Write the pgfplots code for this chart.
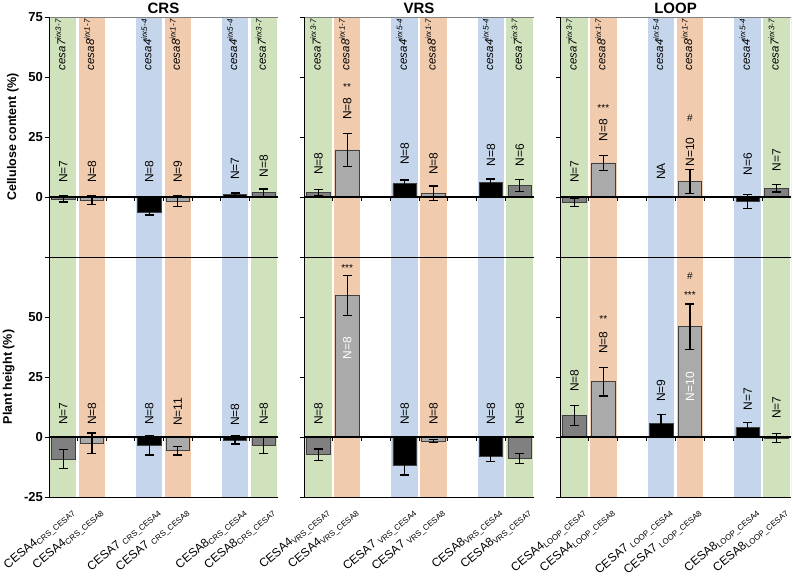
\documentclass[border=0pt]{standalone}
\usepackage{fontspec}
\setmainfont{Liberation Sans}
\usepackage{pgfplots}
\pgfplotsset{compat=1.18}
\definecolor{cgreen}{HTML}{CFE2BC}
\definecolor{corange}{HTML}{F1CBAE}
\definecolor{cblue}{HTML}{C5D6EC}
\definecolor{dgrey}{HTML}{808080}
\definecolor{lgrey}{HTML}{AAAAAA}
\definecolor{edge}{HTML}{404040}
\newcommand{\nf}{\fontsize{12}{13}\selectfont}
\newcommand{\N}[3]{\node[rotate=90,anchor=west,font=\nf,inner sep=0pt] at (axis cs:#1,#2) {#3};}
\newcommand{\W}[3]{\node[rotate=90,anchor=center,font=\nf,inner sep=0pt,text=white] at (axis cs:#1,#2) {#3};}
\newcommand{\St}[3]{\node[font=\fontsize{10}{11}\selectfont,inner sep=0pt] at (axis cs:#1,#2) {#3};}
\newcommand{\G}[3]{\node[rotate=90,anchor=east,inner sep=0pt,font=\fontsize{11.5}{12}\itshape\selectfont] at (axis cs:#1,74.3) {#2\textsuperscript{#3}};}
\newcommand{\bands}{%
\addplot[draw=none,fill=cgreen] coordinates {(-0.46,-25)(0.46,-25)(0.46,75)(-0.46,75)} --cycle;
\addplot[draw=none,fill=corange] coordinates {(0.54,-25)(1.46,-25)(1.46,75)(0.54,75)} --cycle;
\addplot[draw=none,fill=cblue] coordinates {(2.54,-25)(3.46,-25)(3.46,75)(2.54,75)} --cycle;
\addplot[draw=none,fill=corange] coordinates {(3.54,-25)(4.46,-25)(4.46,75)(3.54,75)} --cycle;
\addplot[draw=none,fill=cblue] coordinates {(5.54,-25)(6.46,-25)(6.46,75)(5.54,75)} --cycle;
\addplot[draw=none,fill=cgreen] coordinates {(6.54,-25)(7.46,-25)(7.46,75)(6.54,75)} --cycle;
}
\newcommand{\zeroline}{%
\draw[black,line width=1.1pt] (axis cs:-0.5,0) -- (axis cs:7.5,0);
\pgfplotsinvokeforeach{0.5,1.5,2.5,3.5,4.5,5.5,6.5}{\draw[black,line width=0.8pt] (axis cs:##1,0) -- ([yshift=-4pt]axis cs:##1,0);}
}
\newcommand{\glabels}{%
\G{-0.1}{cesa7}{irx3-7}\G{0.9}{cesa8}{irx1-7}\G{2.9}{cesa4}{irx5-4}\G{3.9}{cesa8}{irx1-7}\G{5.9}{cesa4}{irx5-4}\G{6.9}{cesa7}{irx3-7}}
\pgfplotsset{
 every axis title shift=0pt,
 panel/.style={scale only axis, height=240pt, xmin=-0.5, xmax=7.5, ymin=-25, ymax=75,
  axis x line*=bottom, axis y line*=left, axis line style={-, line width=0.9pt, black}, axis on top,
  ytick={-25,0,25,50,75}, tick align=outside, ytick pos=left, major tick length=4pt,
  major tick style={line width=0.8pt, black}, xtick=\empty,
  yticklabel style={font=\fontsize{13}{14}\bfseries\selectfont, inner sep=2pt},
  ylabel style={font=\fontsize{12.5}{14}\bfseries\selectfont}, ylabel shift=4pt,
  title style={font=\fontsize{15}{16}\bfseries\selectfont, at={(0.5,1)}, anchor=base, inner sep=0pt, yshift=3.5pt},
  anchor=south west},
 bars/.style={ybar, bar width=0.82, bar shift=0pt, draw=edge, line width=0.6pt,
  error bars/.cd, y dir=both, y explicit,
  error bar style={line width=1.2pt, black, solid},
  error mark options={rotate=90, line width=1.2pt, black, mark size=4.5pt}},
 xl/.style={xtick={0,1,3,4,6,7}, xtick style={draw=none},
  x tick label style={rotate=40, anchor=north east, font=\fontsize{12}{13}\selectfont, inner sep=0pt, xshift=1.5pt, yshift=-8pt}},
}
\begin{document}
\begin{tikzpicture}[x=1pt,y=1pt]
\useasboundingbox (0,0) rectangle (793,577);
% ================= bottom row: plant height =================
\begin{axis}[panel, xl, at={(49pt,80pt)}, width=229pt, yticklabels={-25,0,25,50,}, ylabel={Plant height (\%)},
 xticklabels={{CESA4\textsubscript{CRS\_CESA7}},{CESA4\textsubscript{CRS\_CESA8}},{CESA7 \textsubscript{CRS\_CESA4}},{CESA7 \textsubscript{CRS\_CESA8}},{CESA8\textsubscript{CRS\_CESA4}},{CESA8\textsubscript{CRS\_CESA7}}}]
\bands
\addplot[fill=dgrey,bars] table[x=x,y=y,y error=e,row sep=\\]{x y e\\ 0 -9.2 4.0\\ 7 -3.5 3.5\\};
\addplot[fill=lgrey,bars] table[x=x,y=y,y error=e,row sep=\\]{x y e\\ 1 -2.6 4.3\\ 4 -5.7 1.8\\};
\addplot[fill=black,bars] table[x=x,y=y,y error=e,row sep=\\]{x y e\\ 3 -3.5 4.0\\ 6 -1.2 1.7\\};
\zeroline
\N{0}{5}{N=7}\N{1}{5}{N=8}\N{3}{5}{N=8}\N{4}{4.5}{N=11}\N{6}{4.5}{N=8}\N{7}{5}{N=8}
\draw[gray,line width=0.6pt] (rel axis cs:1,1) -- (rel axis cs:1,0);
\end{axis}
\begin{axis}[panel, xl, at={(304pt,80pt)}, width=230pt, yticklabels={},
 xticklabels={{CESA4\textsubscript{VRS\_CESA7}},{CESA4\textsubscript{VRS\_CESA8}},{CESA7 \textsubscript{VRS\_CESA4}},{CESA7 \textsubscript{VRS\_CESA8}},{CESA8\textsubscript{VRS\_CESA4}},{CESA8\textsubscript{VRS\_CESA7}}}]
\bands
\addplot[fill=dgrey,bars] table[x=x,y=y,y error=e,row sep=\\]{x y e\\ 0 -7.4 2.4\\ 7 -9.0 2.0\\};
\addplot[fill=lgrey,bars] table[x=x,y=y,y error=e,row sep=\\]{x y e\\ 1 59 8.3\\ 4 -1.8 0.6\\};
\addplot[fill=black,bars] table[x=x,y=y,y error=e,row sep=\\]{x y e\\ 3 -12 3.8\\ 6 -8 2.3\\};
\zeroline
\N{0}{5}{N=8}\W{1}{37}{N=8}\St{1}{70.4}{***}\N{3}{5}{N=8}\N{4}{5}{N=8}\N{6}{5}{N=8}\N{7}{5}{N=8}
\draw[gray,line width=0.6pt] (rel axis cs:1,1) -- (rel axis cs:1,0);
\end{axis}
\begin{axis}[panel, xl, at={(560pt,80pt)}, width=231pt, yticklabels={},
 xticklabels={{CESA4\textsubscript{LOOP\_CESA7}},{CESA4\textsubscript{LOOP\_CESA8}},{CESA7 \textsubscript{LOOP\_CESA4}},{CESA7 \textsubscript{LOOP\_CESA8}},{CESA8\textsubscript{LOOP\_CESA4}},{CESA8\textsubscript{LOOP\_CESA7}}}]
\bands
\addplot[fill=dgrey,bars] table[x=x,y=y,y error=e,row sep=\\]{x y e\\ 0 8.9 4.2\\ 7 -0.4 1.8\\};
\addplot[fill=lgrey,bars] table[x=x,y=y,y error=e,row sep=\\]{x y e\\ 1 23 5.9\\ 4 46 9.4\\};
\addplot[fill=black,bars] table[x=x,y=y,y error=e,row sep=\\]{x y e\\ 3 5.7 3.8\\ 6 4.0 2.1\\};
\zeroline
\N{0}{18.75}{N=8}\N{1}{34.6}{N=8}\St{1}{49}{**}\N{3}{14.5}{N=9}\W{4}{21}{N=10}\St{4}{59}{***}\St{4}{67}{\#}\N{6}{11}{N=7}\N{7}{7.5}{N=7}
\draw[gray,line width=0.6pt] (rel axis cs:1,1) -- (rel axis cs:1,0);
\end{axis}
% ================= top row: cellulose =================
\begin{axis}[panel, at={(49pt,320pt)}, width=229pt, yticklabels={,0,25,50,75}, ylabel={Cellulose content (\%)}, title={CRS}]
\bands
\addplot[fill=dgrey,bars] table[x=x,y=y,y error=e,row sep=\\]{x y e\\ 0 -0.8 1.3\\ 7 1.8 1.5\\};
\addplot[fill=lgrey,bars] table[x=x,y=y,y error=e,row sep=\\]{x y e\\ 1 -1.3 1.9\\ 4 -1.8 2.2\\};
\addplot[fill=black,bars] table[x=x,y=y,y error=e,row sep=\\]{x y e\\ 3 -6.5 1.0\\ 6 1.1 0.6\\};
\zeroline
\N{0}{5.8}{N=7}\N{1}{5.8}{N=8}\N{3}{5.8}{N=8}\N{4}{5.8}{N=9}\N{6}{7}{N=7}\N{7}{8}{N=8}
\glabels
\draw[gray,line width=0.6pt] (rel axis cs:0,1) -- (rel axis cs:1,1) -- (rel axis cs:1,0);
\end{axis}
\begin{axis}[panel, at={(304pt,320pt)}, width=230pt, yticklabels={}, title={VRS}]
\bands
\addplot[fill=dgrey,bars] table[x=x,y=y,y error=e,row sep=\\]{x y e\\ 0 1.8 1.2\\ 7 4.7 2.5\\};
\addplot[fill=lgrey,bars] table[x=x,y=y,y error=e,row sep=\\]{x y e\\ 1 19.6 7.0\\ 4 1.6 3.0\\};
\addplot[fill=black,bars] table[x=x,y=y,y error=e,row sep=\\]{x y e\\ 3 5.5 1.6\\ 6 6.1 1.4\\};
\zeroline
\N{0}{9.2}{N=8}\N{1}{32}{N=8}\St{1}{46}{**}\N{3}{13.3}{N=8}\N{4}{9.2}{N=8}\N{6}{12.6}{N=8}\N{7}{12.6}{N=6}
\glabels
\draw[gray,line width=0.6pt] (rel axis cs:0,1) -- (rel axis cs:1,1) -- (rel axis cs:1,0);
\end{axis}
\begin{axis}[panel, at={(560pt,320pt)}, width=231pt, yticklabels={}, title={LOOP}]
\bands
\addplot[fill=dgrey,bars] table[x=x,y=y,y error=e,row sep=\\]{x y e\\ 0 -2.3 1.6\\ 7 3.7 1.6\\};
\addplot[fill=lgrey,bars] table[x=x,y=y,y error=e,row sep=\\]{x y e\\ 1 14.2 3.0\\ 4 6.4 4.9\\};
\addplot[fill=black,bars] table[x=x,y=y,y error=e,row sep=\\]{x y e\\ 6 -1.8 3.0\\};
\zeroline
\N{0}{5.8}{N=7}\N{1}{23}{N=8}\St{1}{37}{***}\N{3}{7}{NA}\N{4}{12.6}{N=10}\St{4}{33}{\#}\N{6}{9}{N=6}\N{7}{10.5}{N=7}
\glabels
\draw[gray,line width=0.6pt] (rel axis cs:0,1) -- (rel axis cs:1,1) -- (rel axis cs:1,0);
\end{axis}
\end{tikzpicture}
\end{document}
